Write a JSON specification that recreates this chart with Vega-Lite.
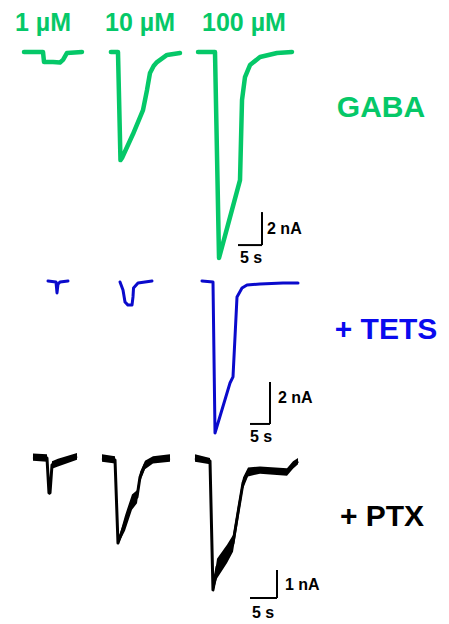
{
  "$schema": "https://vega.github.io/schema/vega-lite/v6.json",
  "padding": 0,
  "spacing": 0,
  "bounds": "flush",
  "config": {"view": {"stroke": null}, "text": {"font": "Liberation Sans", "fontWeight": "bold"}},
  "datasets": {
    "gaba": [
      {"trace": "1 µM", "t": 5.0, "I": 0}, {"trace": "1 µM", "t": 8.96, "I": 0}, {"trace": "1 µM", "t": 9.17, "I": -0.61}, {"trace": "1 µM", "t": 11.04, "I": -0.61}, {"trace": "1 µM", "t": 12.5, "I": -0.64}, {"trace": "1 µM", "t": 13.13, "I": -0.48}, {"trace": "1 µM", "t": 13.96, "I": -0.06}, {"trace": "1 µM", "t": 17.08, "I": 0},
      {"trace": "10 µM", "t": 23.1, "I": 0}, {"trace": "10 µM", "t": 24.58, "I": 0}, {"trace": "10 µM", "t": 25.1, "I": -6.55}, {"trace": "10 µM", "t": 25.42, "I": -6.42}, {"trace": "10 µM", "t": 27.71, "I": -4.97}, {"trace": "10 µM", "t": 29.79, "I": -3.52}, {"trace": "10 µM", "t": 30.63, "I": -2.3}, {"trace": "10 µM", "t": 31.25, "I": -1.27}, {"trace": "10 µM", "t": 32.0, "I": -0.85}, {"trace": "10 µM", "t": 32.71, "I": -0.61}, {"trace": "10 µM", "t": 34.79, "I": -0.18}, {"trace": "10 µM", "t": 37.5, "I": -0.06},
      {"trace": "100 µM", "t": 41.25, "I": 0}, {"trace": "100 µM", "t": 44.79, "I": 0}, {"trace": "100 µM", "t": 45.63, "I": -12.48}, {"trace": "100 µM", "t": 50.0, "I": -7.76}, {"trace": "100 µM", "t": 50.42, "I": -2.91}, {"trace": "100 µM", "t": 51.04, "I": -1.52}, {"trace": "100 µM", "t": 52.08, "I": -0.79}, {"trace": "100 µM", "t": 54.17, "I": -0.3}, {"trace": "100 µM", "t": 57.71, "I": -0.06}, {"trace": "100 µM", "t": 60.83, "I": 0}
    ],
    "tets": [
      {"trace": "1 µM", "t": 12.0, "I": 0.05}, {"trace": "1 µM", "t": 14.0, "I": 0}, {"trace": "1 µM", "t": 14.25, "I": -0.52}, {"trace": "1 µM", "t": 14.5, "I": -0.1}, {"trace": "1 µM", "t": 15.0, "I": 0}, {"trace": "1 µM", "t": 17.0, "I": 0.05},
      {"trace": "10 µM", "t": 30.0, "I": 0}, {"trace": "10 µM", "t": 30.75, "I": -0.38}, {"trace": "10 µM", "t": 31.25, "I": -0.95}, {"trace": "10 µM", "t": 32.0, "I": -1.1}, {"trace": "10 µM", "t": 33.0, "I": -1.1}, {"trace": "10 µM", "t": 33.25, "I": -0.71}, {"trace": "10 µM", "t": 33.38, "I": -0.29}, {"trace": "10 µM", "t": 34.5, "I": -0.05}, {"trace": "10 µM", "t": 38.0, "I": 0.05},
      {"trace": "100 µM", "t": 50.5, "I": 0.05}, {"trace": "100 µM", "t": 53.25, "I": 0}, {"trace": "100 µM", "t": 53.75, "I": -7.19}, {"trace": "100 µM", "t": 57.5, "I": -4.81}, {"trace": "100 µM", "t": 58.25, "I": -4.52}, {"trace": "100 µM", "t": 58.75, "I": -2.62}, {"trace": "100 µM", "t": 59.25, "I": -0.71}, {"trace": "100 µM", "t": 60.5, "I": -0.29}, {"trace": "100 µM", "t": 61.75, "I": -0.14}, {"trace": "100 µM", "t": 65.0, "I": -0.1}, {"trace": "100 µM", "t": 70.75, "I": -0.05}, {"trace": "100 µM", "t": 74.5, "I": -0.05}
    ],
    "ptx": [
      {"trace": "1 µM", "t": 6.11, "I": 0.04, "lo": -0.1, "hi": 0.16}, {"trace": "1 µM", "t": 8.7, "I": 0, "lo": -0.13, "hi": 0.13}, {"trace": "1 µM", "t": 9.07, "I": -1.25, "lo": -1.3, "hi": -1.2}, {"trace": "1 µM", "t": 9.26, "I": -1.25, "lo": -1.3, "hi": -1.2}, {"trace": "1 µM", "t": 9.63, "I": -0.25, "lo": -0.38, "hi": -0.12}, {"trace": "1 µM", "t": 10.74, "I": -0.16, "lo": -0.3, "hi": -0.03}, {"trace": "1 µM", "t": 14.26, "I": 0.07, "lo": -0.06, "hi": 0.18},
      {"trace": "10 µM", "t": 18.89, "I": 0, "lo": -0.13, "hi": 0.13}, {"trace": "10 µM", "t": 21.3, "I": -0.07, "lo": -0.2, "hi": 0.06}, {"trace": "10 µM", "t": 21.85, "I": -3.04, "lo": -3.1, "hi": -2.95}, {"trace": "10 µM", "t": 23.15, "I": -2.32, "lo": -2.6, "hi": -2.05}, {"trace": "10 µM", "t": 24.44, "I": -1.57, "lo": -1.85, "hi": -1.3}, {"trace": "10 µM", "t": 25.37, "I": -1.39, "lo": -1.62, "hi": -1.15}, {"trace": "10 µM", "t": 25.93, "I": -0.68, "lo": -0.85, "hi": -0.5}, {"trace": "10 µM", "t": 26.85, "I": -0.25, "lo": -0.4, "hi": -0.1}, {"trace": "10 µM", "t": 28.33, "I": -0.07, "lo": -0.2, "hi": 0.06}, {"trace": "10 µM", "t": 31.48, "I": 0, "lo": -0.13, "hi": 0.13},
      {"trace": "100 µM", "t": 36.11, "I": 0, "lo": -0.13, "hi": 0.13}, {"trace": "100 µM", "t": 38.89, "I": -0.11, "lo": -0.22, "hi": 0.0}, {"trace": "100 µM", "t": 39.44, "I": -4.71, "lo": -4.8, "hi": -4.6}, {"trace": "100 µM", "t": 40.19, "I": -3.89, "lo": -4.3, "hi": -3.6}, {"trace": "100 µM", "t": 42.04, "I": -3.39, "lo": -3.75, "hi": -3.1}, {"trace": "100 µM", "t": 43.15, "I": -3.04, "lo": -3.35, "hi": -2.75}, {"trace": "100 µM", "t": 44.07, "I": -1.96, "lo": -2.25, "hi": -1.7}, {"trace": "100 µM", "t": 45.0, "I": -0.89, "lo": -1.1, "hi": -0.7}, {"trace": "100 µM", "t": 45.93, "I": -0.5, "lo": -0.66, "hi": -0.34}, {"trace": "100 µM", "t": 48.15, "I": -0.43, "lo": -0.56, "hi": -0.3}, {"trace": "100 µM", "t": 53.15, "I": -0.5, "lo": -0.63, "hi": -0.37}, {"trace": "100 µM", "t": 54.26, "I": -0.25, "lo": -0.38, "hi": -0.12}, {"trace": "100 µM", "t": 55.19, "I": -0.11, "lo": -0.22, "hi": 0.0}
    ]
  },
  "vconcat": [
    {
      "width": 449, "height": 270,
      "layer": [
        {"data": {"name": "gaba"}, "mark": {"type": "line", "color": "#05c868", "strokeWidth": 4.5, "strokeJoin": "round", "strokeCap": "round"},
         "encoding": {"x": {"field": "t", "type": "quantitative", "scale": {"domain": [0, 93.54], "nice": false, "zero": false}, "axis": null},
                      "y": {"field": "I", "type": "quantitative", "scale": {"domain": [-13.21, 3.15], "nice": false, "zero": false}, "axis": null},
                      "detail": {"field": "trace"}}},
        {"data": {"values": [{"t1": 49.58, "t2": 54.58, "I1": -11.7, "I2": -11.7}, {"t1": 54.58, "t2": 54.58, "I1": -11.7, "I2": -9.7}]},
         "mark": {"type": "rule", "color": "black", "strokeWidth": 2},
         "encoding": {"x": {"field": "t1", "type": "quantitative"}, "x2": {"field": "t2"}, "y": {"field": "I1", "type": "quantitative"}, "y2": {"field": "I2"}}},
        {"data": {"values": [{"t": 55.63, "I": -10.73, "label": "2 nA"}, {"t": 50.0, "I": -12.48, "label": "5 s"}]},
         "mark": {"type": "text", "align": "left", "baseline": "middle", "fontSize": 16, "color": "black"},
         "encoding": {"x": {"field": "t", "type": "quantitative"}, "y": {"field": "I", "type": "quantitative"}, "text": {"field": "label"}}},
        {"data": {"values": [{"t": 8.96, "I": 1.76, "label": "1 µM"}, {"t": 29.17, "I": 1.76, "label": "10 µM"}, {"t": 50.83, "I": 1.76, "label": "100 µM"}]},
         "mark": {"type": "text", "align": "center", "baseline": "middle", "fontSize": 25, "color": "#05c868"},
         "encoding": {"x": {"field": "t", "type": "quantitative"}, "y": {"field": "I", "type": "quantitative"}, "text": {"field": "label"}}},
        {"data": {"values": [{"t": 79.38, "I": -3.39, "label": "GABA"}]},
         "mark": {"type": "text", "align": "center", "baseline": "middle", "fontSize": 30, "color": "#05c868"},
         "encoding": {"x": {"field": "t", "type": "quantitative"}, "y": {"field": "I", "type": "quantitative"}, "text": {"field": "label"}}}
      ]
    },
    {
      "width": 449, "height": 170,
      "layer": [
        {"data": {"name": "tets"}, "mark": {"type": "line", "color": "#0a0acc", "strokeWidth": 3, "strokeJoin": "round", "strokeCap": "round"},
         "encoding": {"x": {"field": "t", "type": "quantitative", "scale": {"domain": [0, 112.25], "nice": false, "zero": false}, "axis": null},
                      "y": {"field": "I", "type": "quantitative", "scale": {"domain": [-7.524, 0.571], "nice": false, "zero": false}, "axis": null},
                      "detail": {"field": "trace"}}},
        {"data": {"values": [{"t1": 62.5, "t2": 67.5, "I1": -6.76, "I2": -6.76}, {"t1": 67.5, "t2": 67.5, "I1": -6.76, "I2": -4.76}]},
         "mark": {"type": "rule", "color": "black", "strokeWidth": 2},
         "encoding": {"x": {"field": "t1", "type": "quantitative"}, "x2": {"field": "t2"}, "y": {"field": "I1", "type": "quantitative"}, "y2": {"field": "I2"}}},
        {"data": {"values": [{"t": 69.5, "I": -5.52, "label": "2 nA"}, {"t": 62.5, "I": -7.38, "label": "5 s"}]},
         "mark": {"type": "text", "align": "left", "baseline": "middle", "fontSize": 16, "color": "black"},
         "encoding": {"x": {"field": "t", "type": "quantitative"}, "y": {"field": "I", "type": "quantitative"}, "text": {"field": "label"}}},
        {"data": {"values": [{"t": 96.5, "I": -2.29, "label": "+ TETS"}]},
         "mark": {"type": "text", "align": "center", "baseline": "middle", "fontSize": 30, "color": "#0a0aee"},
         "encoding": {"x": {"field": "t", "type": "quantitative"}, "y": {"field": "I", "type": "quantitative"}, "text": {"field": "label"}}}
      ]
    },
    {
      "width": 449, "height": 184,
      "layer": [
        {"data": {"name": "ptx"}, "mark": {"type": "area", "color": "black"},
         "encoding": {"x": {"field": "t", "type": "quantitative", "scale": {"domain": [0, 83.15], "nice": false, "zero": false}, "axis": null},
                      "y": {"field": "lo", "type": "quantitative", "scale": {"domain": [-5.929, 0.643], "nice": false, "zero": false}, "axis": null},
                      "y2": {"field": "hi"},
                      "detail": {"field": "trace"}}},
        {"data": {"name": "ptx"}, "mark": {"type": "line", "color": "black", "strokeWidth": 3, "strokeJoin": "round"},
         "encoding": {"x": {"field": "t", "type": "quantitative"}, "y": {"field": "I", "type": "quantitative"}, "detail": {"field": "trace"}}},
        {"data": {"values": [{"t1": 46.3, "t2": 51.3, "I1": -5.0, "I2": -5.0}, {"t1": 51.3, "t2": 51.3, "I1": -5.0, "I2": -4.0}]},
         "mark": {"type": "rule", "color": "black", "strokeWidth": 2},
         "encoding": {"x": {"field": "t1", "type": "quantitative"}, "x2": {"field": "t2"}, "y": {"field": "I1", "type": "quantitative"}, "y2": {"field": "I2"}}},
        {"data": {"values": [{"t": 52.78, "I": -4.54, "label": "1 nA"}, {"t": 46.67, "I": -5.54, "label": "5 s"}]},
         "mark": {"type": "text", "align": "left", "baseline": "middle", "fontSize": 16, "color": "black"},
         "encoding": {"x": {"field": "t", "type": "quantitative"}, "y": {"field": "I", "type": "quantitative"}, "text": {"field": "label"}}},
        {"data": {"values": [{"t": 70.74, "I": -2.11, "label": "+ PTX"}]},
         "mark": {"type": "text", "align": "center", "baseline": "middle", "fontSize": 30, "color": "black"},
         "encoding": {"x": {"field": "t", "type": "quantitative"}, "y": {"field": "I", "type": "quantitative"}, "text": {"field": "label"}}}
      ]
    }
  ]
}
